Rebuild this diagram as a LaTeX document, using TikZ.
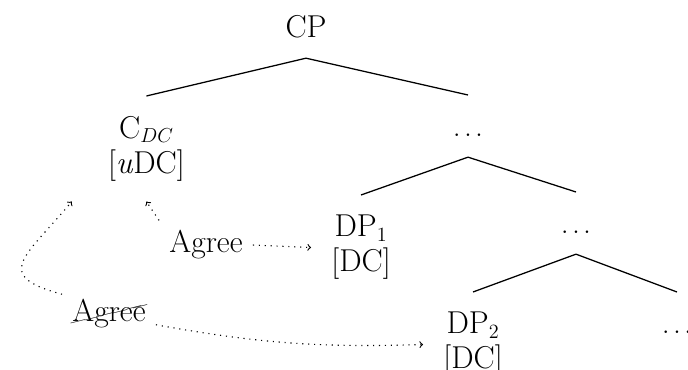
\documentclass[tikz,border=0pt]{standalone}
\usepackage{cancel}
\begin{document}
\begin{tikzpicture}[
    catstyle/.style={inner sep=0.5cm, align=center, anchor=north, font=\fontsize{22.5}{24.9}\selectfont},
    agreestyle/.style={inner sep=0.25cm, anchor=base, font=\fontsize{22.5}{24.9}\selectfont},
    branchstyle/.style={line width=0.9pt},
    agreearrow/.style={->, line width=0.8pt, dash pattern=on 0.8pt off 3.4pt}
]
    \useasboundingbox (0,0) rectangle (17.2,-9.25);

    % tree
    \node[catstyle] (cp) at (7.65,0.125) {CP};
    \node[catstyle] (cdc) at (3.66,-2.4) {C$_{DC}$\\{[}\textit{u}DC{]}};
    \node[catstyle] (dotsa) at (11.7,-2.375) {\vphantom{DP}.\kern0.1em.\kern0.1em.};
    \node[catstyle] (dpa) at (9.025,-4.875) {DP$_1$\\{[}DC{]}};
    \node[catstyle] (dotsb) at (14.4,-4.8) {\vphantom{DP}.\kern0.1em.\kern0.1em.};
    \node[catstyle] (dpb) at (11.825,-7.3) {DP$_2$\\{[}DC{]}};
    \node[catstyle] (dotsc) at (16.925,-7.3) {\vphantom{DP}.\kern0.1em.\kern0.1em.};

    \draw[branchstyle] (cp.south) -- (cdc.north);
    \draw[branchstyle] (cp.south) -- (dotsa.north);
    \draw[branchstyle] (dotsa.south) -- (dpa.north);
    \draw[branchstyle] (dotsa.south) -- (dotsb.north);
    \draw[branchstyle] (dotsb.south) -- (dpb.north);
    \draw[branchstyle] (dotsb.south) -- (dotsc.north);

    % agree relations
    \node[agreestyle] (agra) at (5.15,-6.325) {Agree};
    \node[agreestyle] (agrb) at (2.725,-8.05) {\cancel{Agree}};

    \draw[agreearrow] (agra.north west) -- (cdc.south);
    \draw[agreearrow] (agra.east) -- (dpa.west);
    \draw[agreearrow] (agrb.-10) to[bend right=6] (dpb.west);
    \draw[agreearrow] (agrb.north west) to[out=165, in=230, looseness=2] ([xshift=-0.4cm]cdc.south west);
\end{tikzpicture}
\end{document}
